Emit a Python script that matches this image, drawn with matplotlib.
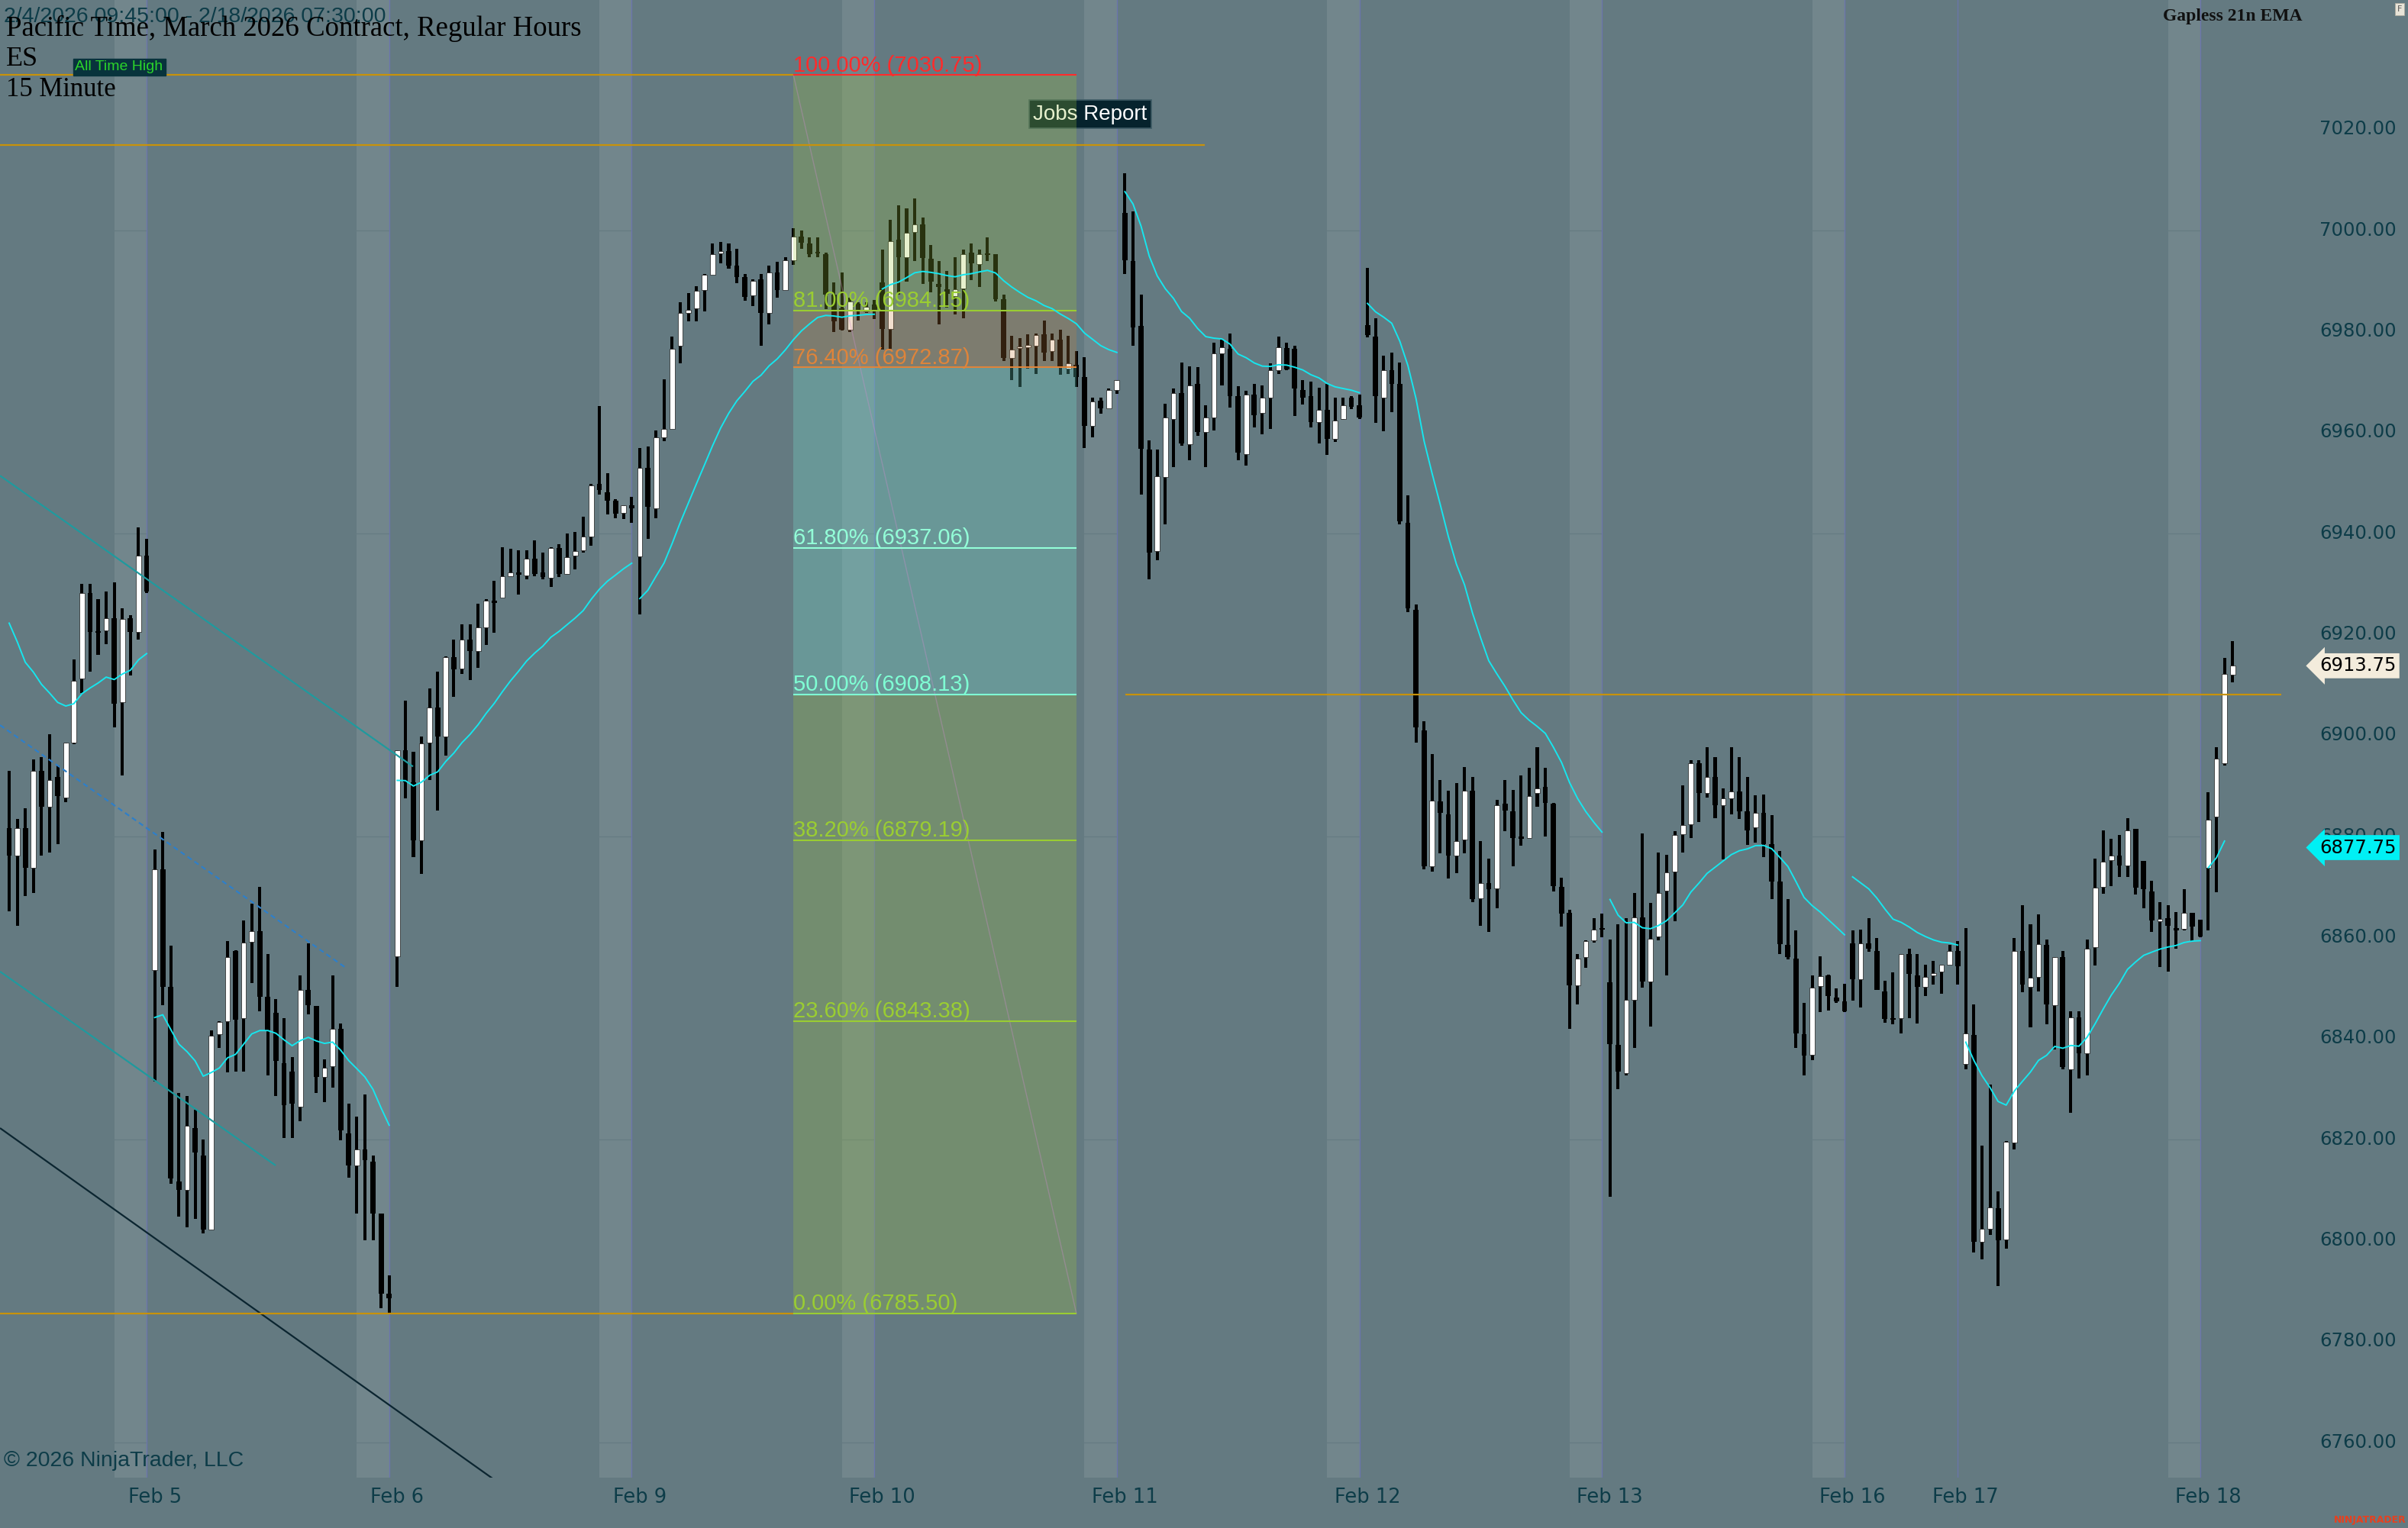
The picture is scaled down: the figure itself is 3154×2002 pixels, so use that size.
import matplotlib
matplotlib.use('Agg')
import matplotlib.pyplot as plt
from matplotlib.patches import Rectangle
import numpy as np

# ---------------- data ----------------
day_labels = ['Feb 4', 'Feb 5', 'Feb 6', 'Feb 9', 'Feb 10', 'Feb 11', 'Feb 12',
              'Feb 13', 'Feb 16', 'Feb 17', 'Feb 18']
bars_per_day = [18, 30, 30, 30, 30, 30, 30, 30, 14, 30, 4]
band_days = [True, True, True, True, True, True, True, True, False, True, False]

opens = [
    # Feb 4
    6881.6, 6876.1, 6881.6, 6873.7, 6893.0, 6885.9, 6891.7, 6887.7, 6898.6, 6911.3, 6928.1, 6920.6, 6920.8, 6923.2, 6906.5, 6923.2, 6920.5, 6935.5,
    # Feb 5
    6853.5, 6873.4, 6850.1, 6811.6, 6810.0, 6822.2, 6816.7, 6802.1, 6840.8, 6843.4, 6857.2, 6844.0, 6859.1, 6861.2, 6848.2, 6845.0, 6835.0, 6833.4, 6826.5, 6849.6, 6846.4, 6832.3, 6834.4, 6841.9, 6821.2, 6814.8, 6818.0, 6815.6, 6805.3, 6789.4,
    # Feb 6
    6856.2, 6897.0, 6890.6, 6879.2, 6898.6, 6905.5, 6899.7, 6915.4, 6913.2, 6919.0, 6916.6, 6921.4, 6926.7, 6927.2, 6931.5, 6932.2, 6931.7, 6935.0, 6932.2, 6931.2, 6937.1, 6932.0, 6935.5, 6936.6, 6939.4, 6949.7, 6948.1, 6946.5, 6944.0, 6945.5,
    # Feb 9
    6935.4, 6953.0, 6944.9, 6959.0, 6960.6, 6977.1, 6983.6, 6984.5, 6988.2, 6991.2, 6995.4, 6995.9, 6993.0, 6990.8, 6987.1, 6990.3, 6983.6, 6991.7, 6988.2, 6994.0, 6998.7, 6997.4, 6995.5, 6995.3, 6987.2, 6984.5, 6980.3, 6985.4, 6983.9, 6985.3,
    # Feb 10
    6989.7, 6980.5, 6998.1, 6994.7, 6999.7, 7001.2, 6994.4, 6989.4, 6988.3, 6986.9, 6988.4, 6995.6, 6993.3, 6995.3, 6995.2, 6986.4, 6974.7, 6976.7, 6976.9, 6977.1, 6979.4, 6976.0, 6978.3, 6972.6, 6973.3, 6971.0, 6961.2, 6966.2, 6964.7, 6968.3,
    # Feb 11
    7003.5, 6993.9, 6981.1, 6956.5, 6936.4, 6951.2, 6962.6, 6967.7, 6957.7, 6969.6, 6960.0, 6962.9, 6975.6, 6976.5, 6967.1, 6955.7, 6967.4, 6963.8, 6966.9, 6972.3, 6976.7, 6976.5, 6968.3, 6967.1, 6962.0, 6964.4, 6958.7, 6962.6, 6966.9, 6965.3,
    # Feb 12
    6981.2, 6979.0, 6966.9, 6972.3, 6969.5, 6942.0, 6924.8, 6900.9, 6874.0, 6886.9, 6884.3, 6876.2, 6879.4, 6889.0, 6867.7, 6870.7, 6869.7, 6886.5, 6884.9, 6879.9, 6879.7, 6888.6, 6889.7, 6886.4, 6869.9, 6864.9, 6850.5, 6856.0, 6859.4, 6861.8,
    # Feb 13
    6851.0, 6838.7, 6833.1, 6847.6, 6863.9, 6851.2, 6860.2, 6869.2, 6873.0, 6880.4, 6882.4, 6894.4, 6888.6, 6891.7, 6886.2, 6887.5, 6888.8, 6884.9, 6881.7, 6884.6, 6878.4, 6871.1, 6858.5, 6855.8, 6840.8, 6836.7, 6850.3, 6852.5, 6848.1, 6847.3,
    # Feb 16
    6858.8, 6851.7, 6858.8, 6857.2, 6849.3, 6843.8, 6844.0, 6856.7, 6852.4, 6850.1, 6852.5, 6853.2, 6854.5, 6857.3,
    # Feb 17
    6834.9, 6840.7, 6799.7, 6802.2, 6806.3, 6800.2, 6819.4, 6857.3, 6850.2, 6852.2, 6858.5, 6846.5, 6856.0, 6833.9, 6844.1, 6837.0, 6858.0, 6870.0, 6875.3, 6876.1, 6874.2, 6881.4, 6875.1, 6869.1, 6863.1, 6863.7, 6861.8, 6861.6, 6864.8, 6863.5,
    # Feb 18
    6873.7, 6883.8, 6894.5, 6912.0,
]
highs = [
    6893.0, 6883.4, 6885.5, 6895.2, 6895.7, 6900.2, 6894.0, 6898.6, 6915.0, 6929.9, 6929.9, 6927.0, 6928.5, 6930.2, 6925.1, 6923.8, 6941.2, 6938.9,
    6877.4, 6880.9, 6858.3, 6829.1, 6828.6, 6825.9, 6819.9, 6841.6, 6843.4, 6859.3, 6857.4, 6863.3, 6866.6, 6870.0, 6856.7, 6847.7, 6844.0, 6836.2, 6852.5, 6858.8, 6846.4, 6835.8, 6852.5, 6842.9, 6827.0, 6824.4, 6828.8, 6816.7, 6805.3, 6793.1,
    6897.0, 6906.9, 6896.7, 6899.7, 6909.2, 6912.6, 6915.6, 6919.0, 6921.9, 6921.9, 6926.0, 6927.0, 6930.6, 6937.3, 6937.0, 6936.6, 6936.6, 6938.6, 6936.2, 6937.3, 6937.8, 6940.0, 6940.2, 6943.3, 6949.7, 6965.2, 6951.9, 6946.8, 6945.5, 6947.2,
    6956.9, 6957.2, 6960.4, 6970.5, 6979.0, 6985.8, 6987.5, 6988.9, 6991.4, 6997.4, 6997.7, 6997.4, 6996.4, 6991.4, 6990.3, 6991.4, 6993.0, 6993.7, 6994.6, 7000.4, 7000.0, 6998.6, 6998.6, 6995.6, 6989.7, 6991.6, 6986.7, 6985.7, 6985.7, 6986.2,
    6996.1, 7002.0, 7004.9, 7004.4, 7006.3, 7002.5, 6997.1, 6993.9, 6992.0, 6994.6, 6996.1, 6997.4, 6996.2, 6998.6, 6995.3, 6987.2, 6979.1, 6978.7, 6979.4, 6979.6, 6982.1, 6979.6, 6980.3, 6979.1, 6976.1, 6974.8, 6966.8, 6966.8, 6968.6, 6970.3,
    7011.3, 7003.8, 6987.3, 6958.4, 6956.5, 6965.6, 6968.6, 6973.8, 6973.0, 6972.9, 6965.3, 6977.8, 6978.4, 6979.5, 6969.1, 6968.2, 6969.6, 6969.3, 6973.7, 6979.0, 6977.7, 6977.1, 6970.3, 6970.0, 6968.8, 6969.6, 6966.8, 6966.8, 6967.1, 6967.5,
    6992.5, 6982.5, 6975.1, 6975.8, 6973.8, 6947.5, 6925.9, 6902.7, 6896.2, 6891.2, 6889.0, 6890.5, 6893.7, 6891.8, 6879.1, 6875.6, 6887.2, 6891.2, 6889.2, 6892.0, 6893.6, 6897.7, 6893.6, 6886.6, 6871.8, 6865.5, 6856.7, 6859.4, 6863.8, 6864.7,
    6859.5, 6862.5, 6863.7, 6868.8, 6880.5, 6866.8, 6876.7, 6876.3, 6881.0, 6890.1, 6895.0, 6895.0, 6897.6, 6895.6, 6889.4, 6897.6, 6895.6, 6891.8, 6888.1, 6888.3, 6884.1, 6877.0, 6867.5, 6861.3, 6847.0, 6852.5, 6856.2, 6852.6, 6849.8, 6850.8,
    6861.3, 6861.5, 6863.8, 6859.8, 6851.4, 6853.0, 6856.7, 6857.8, 6856.7, 6854.5, 6855.3, 6854.6, 6858.5, 6859.3,
    6861.8, 6846.7, 6818.8, 6830.8, 6809.7, 6819.7, 6859.9, 6866.4, 6862.5, 6864.6, 6859.5, 6856.0, 6857.3, 6845.4, 6845.4, 6859.5, 6875.6, 6881.2, 6879.5, 6880.3, 6883.5, 6881.4, 6875.1, 6871.2, 6866.9, 6866.3, 6865.0, 6869.5, 6864.8, 6863.5,
    6888.7, 6897.6, 6915.3, 6918.7,
]
lows = [
    6865.2, 6862.3, 6868.1, 6868.7, 6876.1, 6876.8, 6878.4, 6886.7, 6898.3, 6908.3, 6912.6, 6915.9, 6918.0, 6901.5, 6892.0, 6911.8, 6918.9, 6928.1,
    6831.5, 6846.6, 6811.1, 6804.7, 6802.6, 6804.2, 6801.3, 6802.1, 6838.1, 6833.2, 6833.4, 6833.4, 6850.9, 6845.4, 6832.6, 6828.6, 6820.3, 6820.3, 6823.6, 6844.7, 6829.1, 6827.3, 6830.2, 6819.8, 6812.4, 6805.3, 6800.0, 6800.0, 6786.5, 6785.5,
    6850.1, 6887.5, 6875.8, 6872.6, 6891.2, 6885.1, 6896.0, 6907.6, 6912.1, 6911.0, 6913.4, 6917.9, 6920.3, 6927.2, 6931.3, 6927.8, 6930.9, 6931.5, 6930.9, 6929.4, 6931.3, 6931.8, 6932.8, 6936.2, 6937.6, 6947.6, 6943.7, 6942.9, 6942.8, 6942.1,
    6924.0, 6938.9, 6942.9, 6958.2, 6960.6, 6973.6, 6982.0, 6982.0, 6984.0, 6991.2, 6993.5, 6992.4, 6989.6, 6986.1, 6985.0, 6977.1, 6981.3, 6986.6, 6988.2, 6993.2, 6996.3, 6994.6, 6994.6, 6984.4, 6979.8, 6980.1, 6979.8, 6982.1, 6983.7, 6982.4,
    6976.3, 6976.5, 6987.2, 6989.9, 6993.9, 6989.4, 6987.7, 6981.3, 6984.7, 6983.4, 6982.6, 6990.2, 6988.8, 6993.9, 6985.9, 6974.1, 6970.3, 6968.9, 6972.6, 6971.6, 6974.1, 6974.1, 6971.4, 6971.6, 6968.9, 6956.9, 6959.0, 6963.7, 6964.7, 6967.6,
    6991.4, 6977.1, 6947.6, 6930.9, 6934.7, 6941.7, 6953.1, 6957.4, 6954.4, 6959.3, 6953.1, 6960.4, 6969.3, 6964.9, 6954.5, 6953.4, 6960.9, 6959.6, 6960.6, 6971.6, 6972.3, 6963.3, 6965.5, 6960.9, 6957.8, 6955.5, 6958.1, 6962.5, 6964.6, 6962.6,
    6978.8, 6961.9, 6960.2, 6964.0, 6941.7, 6924.4, 6898.5, 6873.4, 6873.0, 6876.6, 6871.6, 6872.7, 6876.6, 6866.9, 6862.2, 6861.0, 6865.8, 6881.0, 6874.0, 6878.1, 6879.5, 6885.9, 6879.9, 6869.0, 6862.1, 6841.8, 6846.7, 6853.9, 6858.9, 6860.0,
    6808.6, 6829.9, 6832.6, 6838.1, 6850.0, 6842.3, 6859.4, 6852.5, 6863.1, 6876.8, 6879.7, 6882.8, 6887.7, 6883.6, 6875.4, 6884.4, 6883.4, 6878.3, 6878.8, 6875.9, 6867.5, 6856.6, 6855.6, 6838.1, 6832.6, 6835.6, 6845.2, 6845.5, 6847.0, 6845.2,
    6847.4, 6846.1, 6857.1, 6849.6, 6843.1, 6842.7, 6840.9, 6844.0, 6842.9, 6848.3, 6850.6, 6848.8, 6854.5, 6850.6,
    6833.8, 6797.6, 6796.2, 6801.0, 6790.9, 6798.3, 6817.9, 6849.1, 6842.1, 6849.3, 6842.7, 6837.8, 6833.9, 6825.2, 6832.1, 6832.6, 6854.4, 6868.6, 6870.1, 6872.0, 6872.0, 6868.4, 6865.7, 6861.1, 6854.1, 6853.2, 6857.8, 6861.3, 6859.2, 6860.0,
    6861.4, 6868.9, 6894.0, 6910.5,
]
closes = [
    6876.1, 6881.6, 6873.7, 6893.0, 6885.9, 6891.2, 6888.0, 6898.6, 6910.8, 6928.1, 6920.5, 6920.3, 6923.2, 6906.2, 6923.0, 6920.5, 6935.5, 6928.5,
    6873.4, 6850.1, 6812.2, 6810.0, 6822.6, 6817.3, 6802.1, 6840.5, 6843.2, 6856.0, 6843.7, 6859.0, 6861.2, 6848.2, 6841.5, 6835.5, 6826.7, 6827.0, 6849.6, 6846.6, 6832.3, 6834.1, 6841.9, 6821.7, 6814.8, 6818.0, 6815.9, 6805.3, 6789.4, 6788.5,
    6897.0, 6890.6, 6879.2, 6898.4, 6905.5, 6899.7, 6915.4, 6913.1, 6919.0, 6916.6, 6921.4, 6926.7, 6926.2, 6931.5, 6932.2, 6931.8, 6935.0, 6932.0, 6931.3, 6937.1, 6932.0, 6935.2, 6936.5, 6939.4, 6949.5, 6948.6, 6946.5, 6943.9, 6945.5, 6945.0,
    6952.9, 6945.3, 6959.0, 6960.6, 6976.5, 6983.6, 6984.3, 6988.0, 6991.2, 6995.3, 6995.9, 6993.0, 6990.8, 6986.8, 6990.0, 6983.6, 6991.7, 6988.2, 6994.0, 6998.7, 6997.5, 6995.3, 6995.4, 6987.2, 6981.9, 6980.3, 6985.9, 6984.1, 6984.9, 6983.9,
    6980.5, 6997.8, 6994.7, 6999.5, 7001.2, 6994.5, 6989.8, 6988.7, 6987.4, 6988.3, 6995.3, 6993.5, 6995.3, 6995.1, 6986.4, 6974.7, 6976.3, 6976.9, 6977.0, 6979.2, 6975.8, 6978.3, 6972.8, 6973.6, 6971.0, 6961.2, 6966.1, 6964.7, 6968.4, 6970.3,
    6994.0, 6980.8, 6956.7, 6936.2, 6951.3, 6962.9, 6967.7, 6957.8, 6969.3, 6960.1, 6962.9, 6975.6, 6976.9, 6967.2, 6955.9, 6967.4, 6963.4, 6966.8, 6972.3, 6976.9, 6972.5, 6968.7, 6966.9, 6962.0, 6964.4, 6958.7, 6962.3, 6965.3, 6965.1, 6962.9,
    6979.3, 6967.1, 6972.3, 6969.5, 6942.4, 6925.1, 6901.5, 6874.0, 6887.1, 6884.6, 6876.2, 6879.0, 6889.0, 6867.5, 6870.7, 6869.5, 6886.2, 6885.1, 6879.7, 6879.5, 6887.9, 6889.4, 6886.6, 6870.1, 6864.7, 6850.5, 6855.8, 6859.3, 6861.5, 6861.5,
    6838.9, 6833.4, 6847.6, 6863.9, 6851.2, 6859.7, 6868.8, 6872.8, 6880.2, 6882.2, 6894.4, 6888.5, 6891.8, 6886.2, 6887.5, 6888.8, 6884.9, 6881.2, 6884.6, 6878.4, 6871.1, 6858.7, 6856.0, 6841.0, 6836.5, 6850.0, 6852.3, 6848.3, 6847.3, 6845.3,
    6851.7, 6858.8, 6857.7, 6849.6, 6843.8, 6843.6, 6856.7, 6852.7, 6850.1, 6852.2, 6852.7, 6854.5, 6857.3, 6854.3,
    6840.9, 6799.7, 6802.3, 6806.5, 6800.0, 6819.5, 6857.3, 6850.6, 6852.0, 6858.6, 6846.7, 6856.0, 6834.3, 6844.1, 6837.0, 6857.8, 6869.8, 6874.9, 6876.1, 6874.2, 6881.2, 6869.8, 6869.5, 6863.3, 6863.6, 6862.3, 6861.4, 6864.8, 6862.1, 6860.2,
    6883.3, 6895.4, 6912.1, 6913.75,
]

ema_period = 21
ema_first_value = 6922.2      # EMA value at the first visible bar
ema_label_value = 6877.75
last_price_label = 6913.75

price_ticks = [6760, 6780, 6800, 6820, 6840, 6860, 6880, 6900, 6920, 6940, 6960, 6980, 7000, 7020]
grid_prices = [6760, 6820, 6880, 6940, 7000]

fib_pcts = [100.0, 81.0, 76.4, 61.8, 50.0, 38.2, 23.6, 0.0]
fib_prices = [7030.75, 6984.15, 6972.87, 6937.06, 6908.13, 6879.19, 6843.38, 6785.50]
fib_colors = ['#ff2b2b', '#9acd32', '#df843a', '#93ffd8', '#7fffd4', '#9acd32', '#9acd32', '#9acd32']
fib_zone_colors = ['#a0c83c', '#c8823c', '#78f0dc', '#78f0dc', '#a0c83c', '#a0c83c', '#a0c83c']
fib_x = [97.0, 132.0]

# horizontal reference lines: (price, x_start, x_end)
hline_prices = [7030.75, 7016.9, 6785.5, 6908.13]
hline_x0 = [-2.0, -2.0, -2.0, 138.1]
hline_x1 = [97.0, 147.9, 97.0, 281.0]

# channel trend lines (bar index, price)
chan_x0 = [-1.13, -1.13, -1.13, -1.13]
chan_p0 = [6951.4, 6902.0, 6853.2, 6822.2]
chan_x1 = [49.95, 41.5, 32.96, 60.5]
chan_p1 = [6893.8, 6854.1, 6814.8, 6752.0]
chan_colors = ['#1f9a9e', '#2f7fc8', '#1f9a9e', '#0b2530']
chan_styles = ['-', (0, (3, 2)), '-', '-']

# ---------------- figure ----------------
W, H = 3154, 2002
DPI = 100
BG = '#647a81'
BAND = '#72868c'
TXT = '#0d3c48'

fig = plt.figure(figsize=(W / DPI, H / DPI), dpi=DPI, facecolor=BG)
ax_left_px, ax_right_px, ax_bottom_px = 0, 3000, 1936
ax = fig.add_axes([0, (H - ax_bottom_px) / H, ax_right_px / W, ax_bottom_px / H])
ax.set_facecolor(BG)
for s in ax.spines.values():
    s.set_visible(False)
ax.set_xticks([])
ax.set_yticks([])

spacing = 10.59
x_off = 12.0
ax.set_xlim((ax_left_px - x_off) / spacing, (ax_right_px - x_off) / spacing)
ax.set_ylim(6752.98, 7045.6)

o = np.array(opens); h = np.array(highs); l = np.array(lows); c = np.array(closes)
n = len(o)
idx = np.arange(n)
starts = np.concatenate([[0], np.cumsum(bars_per_day)[:-1]])
ends = np.cumsum(bars_per_day) - 1

# session close-hour bands and session separators
for d in range(len(bars_per_day)):
    if band_days[d]:
        ax.axvspan(ends[d] - 4, ends[d], color=BAND, lw=0, zorder=0.5)
    if d < len(bars_per_day) - 1:
        ax.axvline(ends[d], color='#6b74ad', lw=0.9, zorder=0.7)
for gp in grid_prices:
    ax.axhline(gp, color=BG, lw=0.8, zorder=0.6)

# candles
up = c >= o
body_lo = np.minimum(o, c)
body_h = np.maximum(np.abs(c - o), 0.35)
ax.bar(idx, h - l, bottom=l, width=0.38, color='black', lw=0, zorder=3)
ax.bar(idx[~up], body_h[~up], bottom=body_lo[~up], width=0.64, color='black', lw=0, zorder=3.1)
ax.bar(idx[up], body_h[up], bottom=body_lo[up], width=0.64, color='white',
       edgecolor='#1a1a1a', lw=0.5, zorder=3.2)

# channel lines
for i in range(len(chan_x0)):
    ax.plot([chan_x0[i], chan_x1[i]], [chan_p0[i], chan_p1[i]], color=chan_colors[i],
            lw=1.6, ls=chan_styles[i], zorder=3.5, solid_capstyle='butt')

# Jobs Report label (beneath the fib overlay)
ax.text(133.7, 7023.0, 'Jobs Report', fontsize=20, color='white', ha='center', va='center',
        family=['Liberation Sans', 'DejaVu Sans'], zorder=2.5,
        bbox=dict(boxstyle='square,pad=0.2', fc='#06232d', ec='#3d5a64', lw=1.2))

# fib zones
for z in range(len(fib_zone_colors)):
    ax.add_patch(Rectangle((fib_x[0], fib_prices[z + 1]), fib_x[1] - fib_x[0],
                           fib_prices[z] - fib_prices[z + 1], facecolor=fib_zone_colors[z],
                           alpha=0.25, lw=0, zorder=4))
ax.plot([fib_x[0], fib_x[1]], [fib_prices[0], fib_prices[-1]], color='#d08cd0', lw=1.0,
        alpha=0.35, zorder=4.5)

# horizontal orange lines
for i in range(len(hline_prices)):
    ax.plot([hline_x0[i], hline_x1[i]], [hline_prices[i]] * 2, color='#c8920a', lw=1.6,
            zorder=5, solid_capstyle='butt')

# fib lines + labels
for i in range(len(fib_prices)):
    ax.plot(fib_x, [fib_prices[i]] * 2, color=fib_colors[i], lw=1.5, zorder=6,
            solid_capstyle='butt')
    ax.text(fib_x[0], fib_prices[i] - 0.2, f'{fib_pcts[i]:.2f}% ({fib_prices[i]:.2f})',
            color=fib_colors[i], fontsize=21, ha='left', va='bottom',
            family=['Liberation Sans', 'DejaVu Sans'], zorder=6.5)

# gapless EMA (computed from closes, shifted by the session-open gap)
alpha = 2.0 / (ema_period + 1)
ema = np.empty(n)
start_set = set(starts.tolist())
for i in range(n):
    if i == 0:
        ema[i] = ema_first_value
        continue
    e = ema[i - 1]
    if i in start_set:
        e = e + (o[i] - c[i - 1])
    ema[i] = e + alpha * (c[i] - e)
for d in range(len(bars_per_day)):
    s, e = starts[d], ends[d]
    if d == len(bars_per_day) - 1:
        e = e - 1          # forming bar has no indicator value yet
    ax.plot(idx[s:e + 1], ema[s:e + 1], color='#16e6ee', lw=1.4, zorder=7)

# All Time High label
ax.text(13.6, 7032.3, 'All Time High', fontsize=14, color='#2bd42b', ha='center', va='center',
        family=['Liberation Sans', 'DejaVu Sans'], zorder=8,
        bbox=dict(boxstyle='square,pad=0.15', fc='#08333c', ec='#08333c'))

# price axis labels
ytr = ax.get_yaxis_transform()
lab_x = 3038 / ax_right_px
for p in price_ticks:
    ax.text(lab_x, p, f'{p:.2f}', transform=ytr, fontsize=17.5, color=TXT, ha='left',
            va='center', family=['DejaVu Sans'], clip_on=False, zorder=9)
ax.text(lab_x, last_price_label, f'{last_price_label:.2f}', transform=ytr, fontsize=17.5,
        color='black', ha='left', va='center', family=['DejaVu Sans'], clip_on=False, zorder=10,
        bbox=dict(boxstyle='larrow,pad=0.18', fc='#f3ecdc', ec='none'))
ax.text(lab_x, ema_label_value, f'{ema_label_value:.2f}', transform=ytr, fontsize=17.5,
        color='black', ha='left', va='center', family=['DejaVu Sans'], clip_on=False, zorder=10,
        bbox=dict(boxstyle='larrow,pad=0.18', fc='#00f0f4', ec='none'))

# date labels
xtr = ax.get_xaxis_transform()
for d in range(1, len(day_labels)):
    ax.text(starts[d], (ax_bottom_px - 1962) / ax_bottom_px, day_labels[d], transform=xtr,
            fontsize=18.5, color=TXT, ha='center', va='center', family=['DejaVu Sans'],
            clip_on=False)

# header / footer texts
def fx(px):
    return px / W

def fy(py):
    return 1 - py / H

fig.text(fx(5), fy(9), '2/4/2026 09:45:00 - 2/18/2026 07:30:00', fontsize=20.5, color=TXT,
         ha='left', va='top', family=['Liberation Sans', 'DejaVu Sans'])
fig.text(fx(8), fy(47), 'Pacific Time, March 2026 Contract, Regular Hours', fontsize=26.5,
         color='black', ha='left', va='baseline', family=['Liberation Serif', 'DejaVu Serif'])
fig.text(fx(8), fy(86), 'ES', fontsize=26, color='black', ha='left', va='baseline',
         family=['Liberation Serif', 'DejaVu Serif'])
fig.text(fx(8), fy(126), '15 Minute', fontsize=25, color='black', ha='left', va='baseline',
         family=['Liberation Serif', 'DejaVu Serif'])
fig.text(fx(2924), fy(21), 'Gapless 21n EMA', fontsize=17, color='#111111', ha='center',
         va='center', weight='bold', family=['Liberation Serif', 'DejaVu Serif'])
fig.text(fx(3143), fy(12), 'F', fontsize=8, color='#555555', ha='center', va='center',
         family=['DejaVu Sans'],
         bbox=dict(boxstyle='square,pad=0.25', fc='#e8e4d8', ec='#b0aca0', lw=0.6))
fig.text(fx(5), fy(1914), '\u00a9 2026 NinjaTrader, LLC', fontsize=20.5, color=TXT, ha='left',
         va='center', family=['Liberation Sans', 'DejaVu Sans'])
fig.text(fx(3152), fy(1992), 'NINJATRADER', fontsize=9, color='#e8401e', ha='right',
         va='center', weight='bold', family=['DejaVu Sans'])

fig.savefig('out.png', dpi=DPI, facecolor=BG)
